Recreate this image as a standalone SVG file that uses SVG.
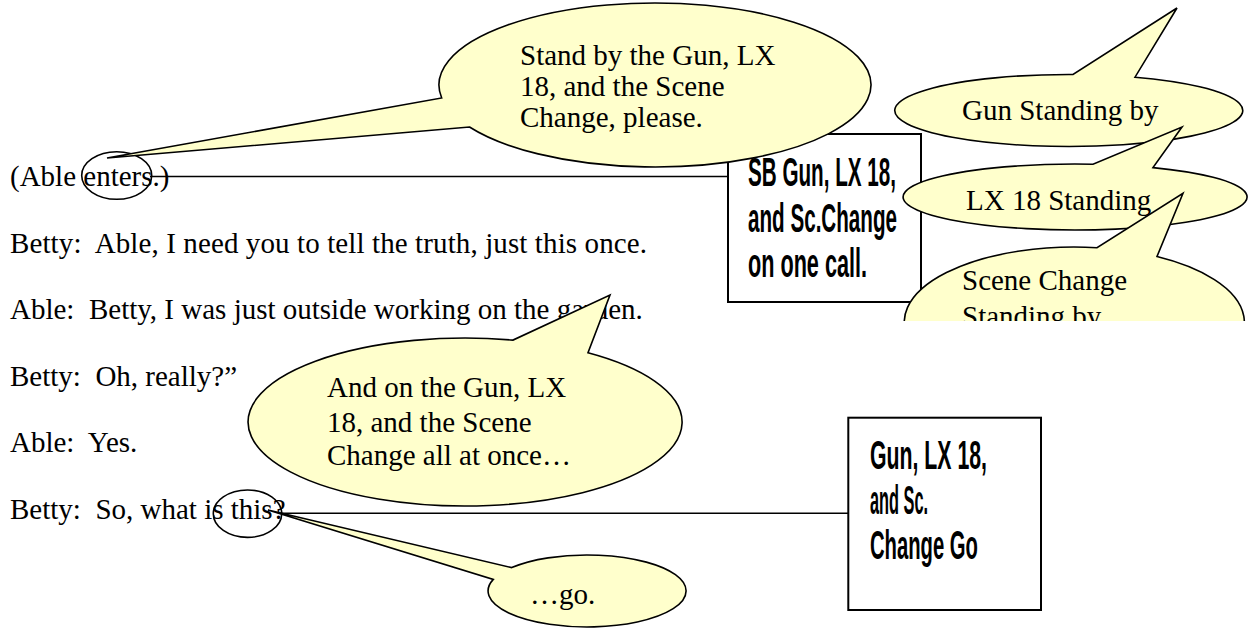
<svg xmlns="http://www.w3.org/2000/svg" width="1248" height="629" viewBox="0 0 1248 629">
  <style>
    .script { font-family: "Liberation Serif", "Times New Roman", serif; font-size: 29px; fill: #000; white-space: pre; }
    .cue { font-family: "Liberation Serif", "Times New Roman", serif; font-size: 29px; fill: #000; }
    .note { font-family: "Liberation Sans Narrow", "Liberation Sans", "DejaVu Sans Condensed", sans-serif; font-weight: bold; font-size: 40px; fill: #000; }
    .bubble { fill: #FFFFCC; stroke: #000; stroke-width: 1.6; stroke-linejoin: miter; }
    .box { fill: #FFFFFF; stroke: #000; stroke-width: 2; }
    .mark { fill: none; stroke: #000; stroke-width: 1.6; }
    .link { stroke: #000; stroke-width: 1.6; fill: none; }
  </style>
  <defs>
    <clipPath id="pageCut">
      <rect x="0" y="0" width="1248" height="321"/>
    </clipPath>
  </defs>

  <rect x="0" y="0" width="1248" height="629" fill="#FFFFFF"/>

  <!-- script lines -->
  <g id="script">
    <text class="script" x="10" y="186">(Able enters.)</text>
    <text class="script" x="10" y="252.5" textLength="637">Betty:  Able, I need you to tell the truth, just this once.</text>
    <text class="script" x="10" y="319">Able:  Betty, I was just outside working on the garden.</text>
    <text class="script" x="10" y="385.5">Betty:  Oh, really?”</text>
    <text class="script" x="10" y="452">Able:  Yes.</text>
    <text class="script" x="10" y="518.5">Betty:  So, what is this?</text>
  </g>

  <!-- connectors from the marked words to the cue boxes -->
  <g id="connectors">
    <line class="link" x1="150" y1="176.5" x2="728" y2="176.5"/>
    <line class="link" x1="280" y1="513.3" x2="848" y2="513.3"/>
  </g>

  <!-- marked words -->
  <g id="mark-enters">
    <ellipse class="mark" cx="116.7" cy="175.5" rx="35" ry="23.8"/>
  </g>
  <g id="mark-this">
    <ellipse class="mark" cx="247.5" cy="513.7" rx="34.2" ry="23.7"/>
  </g>

  <!-- cue box: standby (condensed lettering via horizontal scale) -->
  <g id="box-standby">
    <rect class="box" x="728" y="134" width="193" height="168"/>
    <text class="note" transform="translate(748,186) scale(0.63,1)" x="0" y="0" textLength="234.9" lengthAdjust="spacingAndGlyphs">SB Gun, LX 18,</text>
    <text class="note" transform="translate(748,231.5) scale(0.63,1)" x="0" y="0" textLength="236.5" lengthAdjust="spacingAndGlyphs">and Sc.Change</text>
    <text class="note" transform="translate(748,277) scale(0.63,1)" x="0" y="0" textLength="188.9" lengthAdjust="spacingAndGlyphs">on one call.</text>
  </g>

  <!-- cue box: go -->
  <g id="box-go">
    <rect class="box" x="848.3" y="417.7" width="192.7" height="192.3"/>
    <text class="note" transform="translate(870,469) scale(0.63,1)" x="0" y="0" textLength="185.7" lengthAdjust="spacingAndGlyphs">Gun, LX 18,</text>
    <text class="note" transform="translate(870,514) scale(0.63,1)" x="0" y="0" textLength="92.1" lengthAdjust="spacingAndGlyphs">and Sc.</text>
    <text class="note" transform="translate(870,559) scale(0.63,1)" x="0" y="0" textLength="171.4" lengthAdjust="spacingAndGlyphs">Change Go</text>
  </g>

  <!-- callout: stand by -->
  <g id="bubble-standby">
    <path class="bubble" d="M 441.7 98 A 216 82 0 1 1 469.5 127 L 107 158 Z"/>
    <text class="cue" x="520" y="65">Stand by the Gun, LX</text>
    <text class="cue" x="520" y="96">18, and the Scene</text>
    <text class="cue" x="520" y="127">Change, please.</text>
  </g>

  <!-- callout: gun reply -->
  <g id="bubble-gun">
    <path class="bubble" d="M 1135 77.2 A 174 36 0 1 1 1073 74.5 L 1177 8 Z"/>
    <text class="cue" x="962" y="119.5">Gun Standing by</text>
  </g>

  <!-- callout: lighting reply -->
  <g id="bubble-lx">
    <path class="bubble" d="M 1153 167.6 A 172 33 0 1 1 1093 164.2 L 1182 127 Z"/>
    <text class="cue" x="966" y="210">LX 18 Standing</text>
  </g>

  <!-- callout: scene change reply -->
  <g id="bubble-scene" clip-path="url(#pageCut)">
    <path class="bubble" d="M 1157 256.5 A 170 75 0 1 1 1097 247.7 L 1183 193.3 Z"/>
    <text class="cue" x="962" y="290">Scene Change</text>
    <text class="cue" x="962" y="326">Standing by</text>
  </g>

  <!-- callout: warning -->
  <g id="bubble-warning">
    <path class="bubble" d="M 588 352.8 A 217 84 0 1 1 513 340.1 L 610 295 Z"/>
    <text class="cue" x="327" y="397">And on the Gun, LX</text>
    <text class="cue" x="327" y="431.7">18, and the Scene</text>
    <text class="cue" x="327" y="465">Change all at once…</text>
  </g>

  <!-- callout: go -->
  <g id="bubble-go">
    <path class="bubble" d="M 511.7 567.6 A 99 36 0 1 1 493.3 579.4 L 268 510 Z"/>
    <text class="cue" x="530" y="604">…go.</text>
  </g>
</svg>
